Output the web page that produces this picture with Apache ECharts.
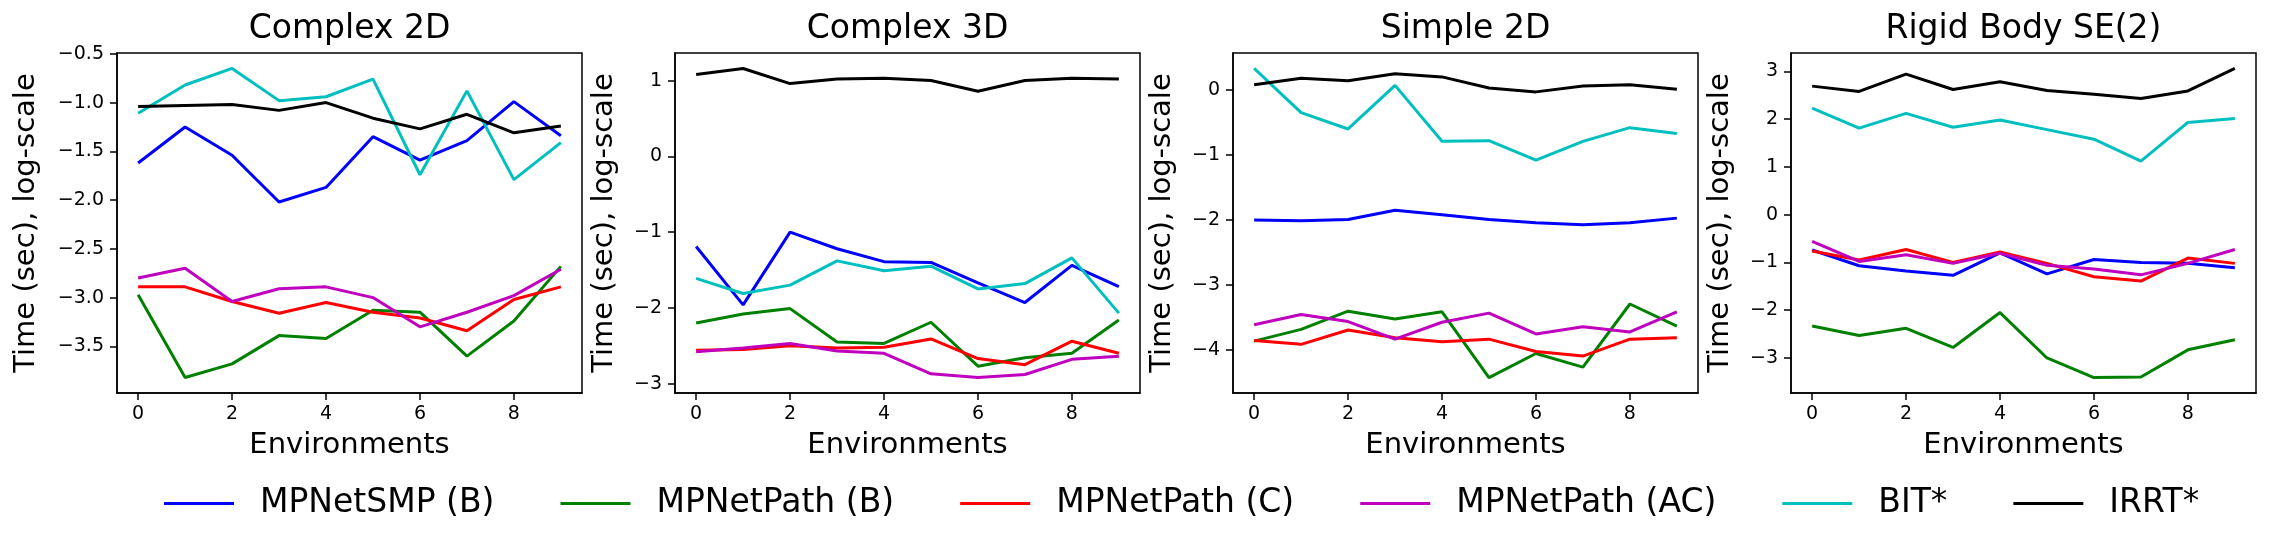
<!DOCTYPE html>
<html>
<head>
<meta charset="utf-8">
<script src="https://cdn.jsdelivr.net/npm/echarts@6/dist/echarts.min.js"></script>
<style>
  html, body {margin: 0; padding: 0; background: #fff;}
  #chart {width: 2271px; height: 552px;}
</style>
</head>
<body>
<div id="chart"></div>
<script>
// x values shared by every panel
const envs = [0, 1, 2, 3, 4, 5, 6, 7, 8, 9]
const xTicks = [0, 2, 4, 6, 8]

const seriesNames = ['MPNetSMP (B)', 'MPNetPath (B)', 'MPNetPath (C)', 'MPNetPath (AC)', 'BIT*', 'IRRT*']
const seriesColors = ['#0000ff', '#008000', '#ff0000', '#bf00bf', '#00bfbf', '#000000']

const panelTitles = ['Complex 2D', 'Complex 3D', 'Simple 2D', 'Rigid Body SE(2)']

// rows follow seriesNames order, log-scale time per environment
const complex2D = [
  [-1.62, -1.25, -1.54, -2.02, -1.87, -1.35, -1.59, -1.39, -0.99, -1.34],
  [-2.97, -3.82, -3.68, -3.39, -3.42, -3.13, -3.15, -3.60, -3.24, -2.68],
  [-2.89, -2.89, -3.04, -3.16, -3.05, -3.15, -3.21, -3.34, -3.02, -2.89],
  [-2.80, -2.70, -3.04, -2.91, -2.89, -3.00, -3.30, -3.15, -2.98, -2.71],
  [-1.11, -0.82, -0.65, -0.98, -0.94, -0.76, -1.74, -0.88, -1.79, -1.41],
  [-1.04, -1.03, -1.02, -1.08, -1.00, -1.16, -1.27, -1.12, -1.31, -1.24]
]
const complex3D = [
  [-1.19, -1.96, -1.00, -1.22, -1.39, -1.40, -1.67, -1.93, -1.44, -1.72],
  [-2.20, -2.08, -2.01, -2.45, -2.47, -2.19, -2.77, -2.66, -2.60, -2.16],
  [-2.56, -2.55, -2.50, -2.53, -2.52, -2.41, -2.67, -2.75, -2.44, -2.60],
  [-2.58, -2.53, -2.47, -2.57, -2.60, -2.87, -2.92, -2.88, -2.68, -2.64],
  [-1.61, -1.81, -1.70, -1.38, -1.51, -1.45, -1.75, -1.68, -1.34, -2.07],
  [1.08, 1.16, 0.96, 1.02, 1.03, 1.00, 0.86, 1.00, 1.03, 1.02]
]
const simple2D = [
  [-2.00, -2.01, -1.99, -1.85, -1.92, -1.99, -2.04, -2.07, -2.04, -1.97],
  [-3.86, -3.68, -3.40, -3.52, -3.41, -4.42, -4.05, -4.26, -3.29, -3.63],
  [-3.85, -3.91, -3.69, -3.81, -3.87, -3.83, -4.02, -4.09, -3.83, -3.81],
  [-3.61, -3.45, -3.56, -3.83, -3.57, -3.43, -3.75, -3.64, -3.72, -3.41],
  [0.33, -0.35, -0.60, 0.07, -0.79, -0.78, -1.08, -0.79, -0.58, -0.67],
  [0.08, 0.18, 0.14, 0.25, 0.20, 0.03, -0.03, 0.06, 0.08, 0.01]
]
const rigidSE2 = [
  [-0.74, -1.07, -1.18, -1.27, -0.80, -1.24, -0.94, -1.00, -1.02, -1.11],
  [-2.33, -2.53, -2.38, -2.78, -2.05, -3.00, -3.41, -3.40, -2.83, -2.62],
  [-0.76, -0.95, -0.73, -1.00, -0.78, -1.02, -1.30, -1.39, -0.91, -1.02],
  [-0.56, -0.98, -0.84, -1.02, -0.81, -1.06, -1.14, -1.26, -1.02, -0.73],
  [2.23, 1.81, 2.12, 1.83, 1.98, 1.78, 1.58, 1.12, 1.93, 2.01],
  [2.69, 2.58, 2.94, 2.62, 2.78, 2.60, 2.52, 2.43, 2.59, 3.06]
]
const panelData = [complex2D, complex3D, simple2D, rigidSE2]

const yTicks = [
  [-3.5, -3, -2.5, -2, -1.5, -1, -0.5],
  [-3, -2, -1, 0, 1],
  [-4, -3, -2, -1, 0],
  [-3, -2, -1, 0, 1, 2, 3]
]
const yDecimals = [1, 0, 0, 0]

// layout
const font = 'DejaVu Sans'
const gridLeft = [117, 675, 1233, 1791]
const gridTop = 53
const gridW = 465
const gridH = 340
const yNameGap = [76, 56, 56, 56]

// matplotlib style 5% padding
function padded(vals) {
  const lo = Math.min(...vals), hi = Math.max(...vals)
  const m = (hi - lo) * 0.05
  return [lo - m, hi + m]
}
const minus = s => s.replace('-', '\u2212')

const grids = [], xAxes = [], yAxes = [], series = [], graphics = []
panelData.forEach((table, p) => {
  grids.push({
    left: gridLeft[p], top: gridTop, width: gridW, height: gridH,
    show: true, borderColor: '#000', borderWidth: 1.5, containLabel: false
  })
  const [x0, x1] = padded(envs)
  xAxes.push({
    gridIndex: p, type: 'value', min: x0, max: x1,
    name: 'Environments', nameLocation: 'middle', nameGap: 38,
    nameTextStyle: {fontFamily: font, fontSize: 29, color: '#000'},
    axisLine: {show: true, onZero: false, lineStyle: {color: '#000', width: 1.5}},
    axisTick: {show: true, length: 7, lineStyle: {color: '#000', width: 1.5}, customValues: xTicks},
    axisLabel: {fontFamily: font, fontSize: 19, color: '#000', margin: 12, customValues: xTicks},
    splitLine: {show: false}
  })
  const [y0, y1] = padded(table.flat())
  yAxes.push({
    gridIndex: p, type: 'value', min: y0, max: y1,
    name: 'Time (sec), log-scale', nameLocation: 'middle', nameRotate: 90, nameGap: yNameGap[p],
    nameTextStyle: {fontFamily: font, fontSize: 29, color: '#000'},
    axisLine: {show: true, onZero: false, lineStyle: {color: '#000', width: 1.5}},
    axisTick: {show: true, length: 7, lineStyle: {color: '#000', width: 1.5}, customValues: yTicks[p]},
    axisLabel: {
      fontFamily: font, fontSize: 19, color: '#000', margin: 13, customValues: yTicks[p],
      formatter: v => minus(v.toFixed(yDecimals[p]))
    },
    splitLine: {show: false}
  })
  graphics.push({
    type: 'text', x: gridLeft[p] + gridW / 2, y: 29,
    style: {text: panelTitles[p], fontFamily: font, fontSize: 33, fill: '#000', align: 'center', verticalAlign: 'middle'}
  })
  table.forEach((vals, i) => {
    series.push({
      name: seriesNames[i], type: 'line', xAxisIndex: p, yAxisIndex: p,
      data: envs.map((e, k) => [e, vals[k]]),
      symbol: 'none', showSymbol: false,
      color: seriesColors[i],
      lineStyle: {width: 3, color: seriesColors[i]},
      z: 2 + i
    })
  })
})

const chart = echarts.init(document.getElementById('chart'), null, {renderer: 'canvas'})
chart.setOption({
  animation: false,
  backgroundColor: '#fff',
  grid: grids,
  xAxis: xAxes,
  yAxis: yAxes,
  graphic: graphics,
  legend: {
    data: seriesNames,
    left: 164, top: 487, padding: 0,
    icon: 'rect', itemWidth: 70, itemHeight: 3, itemGap: 66,
    textStyle: {fontFamily: font, fontSize: 33, color: '#000', padding: [0, 0, 0, 21]}
  },
  series: series
})
</script>
</body>
</html>
